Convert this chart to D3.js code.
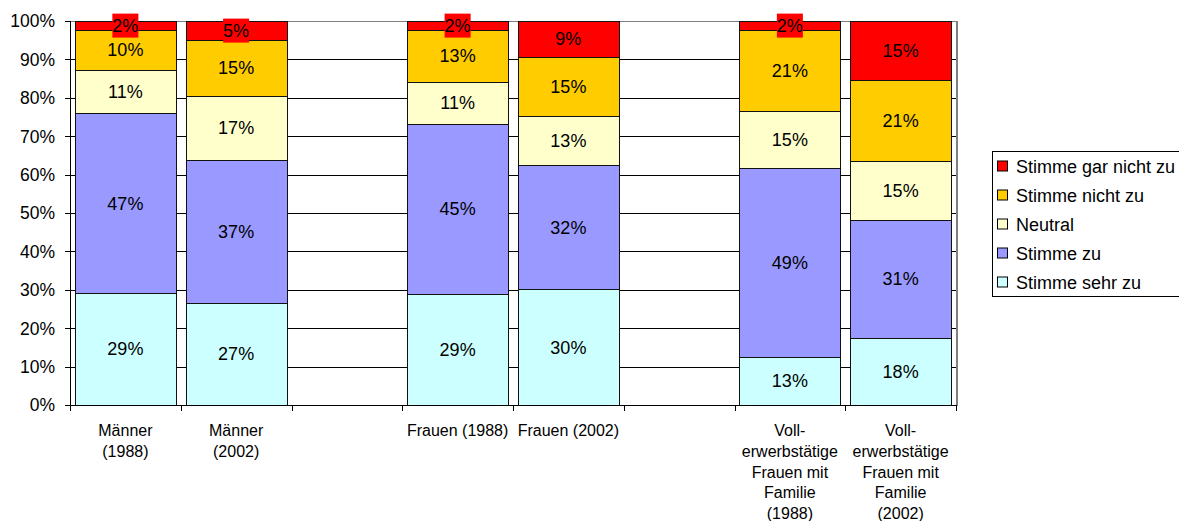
<!DOCTYPE html>
<html>
<head>
<meta charset="utf-8">
<script src="https://cdn.jsdelivr.net/npm/d3@7"></script>
<style>
  body { margin: 0; background: #fff; }
  text { font-family: "Liberation Sans", Arial, sans-serif; fill: #000; }
</style>
</head>
<body>
<div id="viz"></div>
<script>
// categories (empty strings are the spacer slots between the groups)
const categories = [
  'Männer\n(1988)', 'Männer\n(2002)', '',
  'Frauen (1988)', 'Frauen (2002)', '',
  'Voll-\nerwerbstätige\nFrauen mit\nFamilie\n(1988)',
  'Voll-\nerwerbstätige\nFrauen mit\nFamilie\n(2002)'
];

const seriesNames = ['Stimme sehr zu', 'Stimme zu', 'Neutral', 'Stimme nicht zu', 'Stimme gar nicht zu'];
const seriesColors = ['#ccffff', '#9999ff', '#ffffcc', '#ffcc00', '#ff0000'];

// percentages
const sehrZu   = [29.1, 26.5, null, 28.8, 30.1, null, 12.5, 17.5];
const zu       = [46.9, 37.3, null, 44.5, 32.3, null, 49.1, 30.6];
const neutral  = [11.2, 16.7, null, 10.9, 12.9, null, 14.9, 15.4];
const nichtZu  = [10.4, 14.5, null, 13.4, 15.4, null, 21.1, 21.1];
const garNicht = [2.4, 5.0, null, 2.4, 9.3, null, 2.4, 15.4];

const yTicks = [0, 0.1, 0.2, 0.3, 0.4, 0.5, 0.6, 0.7, 0.8, 0.9, 1];

const W = 1179, H = 521;
const plotLeft = 70, plotRight = 956, plotTop = 21, plotBottom = 405;

const rows = categories.map((c, i) => ({
  i: i,
  'Stimme sehr zu': sehrZu[i],
  'Stimme zu': zu[i],
  'Neutral': neutral[i],
  'Stimme nicht zu': nichtZu[i],
  'Stimme gar nicht zu': garNicht[i]
})).filter(d => d['Stimme zu'] != null);

const stacked = d3.stack()
  .keys(seriesNames)
  .offset(d3.stackOffsetExpand)(rows);

const svg = d3.select('#viz')
  .append('svg')
  .attr('width', W)
  .attr('height', H);

const x = d3.scaleBand()
  .domain(d3.range(categories.length))
  .range([plotLeft, plotRight])
  .paddingInner(0.09)
  .paddingOuter(0.045);

const y = d3.scaleLinear().domain([0, 1]).range([plotBottom, plotTop]);

// gridlines
svg.append('g')
  .selectAll('line')
  .data(yTicks.filter(t => t > 0))
  .join('line')
  .attr('x1', plotLeft).attr('x2', plotRight)
  .attr('y1', d => Math.round(y(d)) + 0.5)
  .attr('y2', d => Math.round(y(d)) + 0.5)
  .attr('stroke', d => d === 1 ? '#808080' : '#000')
  .attr('stroke-width', 1);

// plot area right border
svg.append('line')
  .attr('x1', plotRight + 1).attr('x2', plotRight + 1)
  .attr('y1', plotTop).attr('y2', plotBottom + 1)
  .attr('stroke', '#808080')
  .attr('stroke-width', 2);

// bars
const layers = svg.append('g')
  .selectAll('g')
  .data(stacked)
  .join('g')
  .attr('fill', (d, i) => seriesColors[i]);

layers.selectAll('rect')
  .data(d => d)
  .join('rect')
  .attr('x', d => Math.round(x(d.data.i)) + 0.5)
  .attr('width', Math.round(x.bandwidth()))
  .attr('y', d => Math.round(y(d[1])) + 0.5)
  .attr('height', d => Math.round(y(d[0])) - Math.round(y(d[1])))
  .attr('stroke', '#111')
  .attr('stroke-width', 1);

// value labels
stacked.forEach((layer, si) => {
  const key = layer.key;
  const g = svg.append('g');
  layer.forEach(d => {
    const cx = x(d.data.i) + x.bandwidth() / 2;
    const cy = (y(d[0]) + y(d[1])) / 2;
    const t = g.append('text')
      .attr('x', cx)
      .attr('y', cy)
      .attr('dy', '0.35em')
      .attr('text-anchor', 'middle')
      .attr('font-size', 18)
      .text(Math.round(d.data[key]) + '%');
    if (key === 'Stimme gar nicht zu') {
      const bb = t.node().getBBox();
      g.insert('rect', () => t.node())
        .attr('x', bb.x)
        .attr('y', cy - 12)
        .attr('width', bb.width)
        .attr('height', 24)
        .attr('fill', seriesColors[si]);
    }
  });
});

// y axis
svg.append('line')
  .attr('x1', plotLeft + 0.5).attr('x2', plotLeft + 0.5)
  .attr('y1', plotTop).attr('y2', plotBottom + 1)
  .attr('stroke', '#000');

const yAxis = svg.append('g');
yAxis.selectAll('line')
  .data(yTicks)
  .join('line')
  .attr('x1', plotLeft - 5).attr('x2', plotLeft)
  .attr('y1', d => Math.round(y(d)) + 0.5)
  .attr('y2', d => Math.round(y(d)) + 0.5)
  .attr('stroke', '#000');
yAxis.selectAll('text')
  .data(yTicks)
  .join('text')
  .attr('x', plotLeft - 15)
  .attr('y', d => y(d))
  .attr('dy', '0.36em')
  .attr('text-anchor', 'end')
  .attr('font-size', 17.5)
  .text(d3.format('.0%'));

// x axis
svg.append('line')
  .attr('x1', plotLeft).attr('x2', plotRight + 1)
  .attr('y1', plotBottom + 0.5).attr('y2', plotBottom + 0.5)
  .attr('stroke', '#000');

svg.append('g')
  .selectAll('line')
  .data(d3.range(categories.length + 1))
  .join('line')
  .attr('x1', i => Math.round(plotLeft + i * x.step()) + 0.5)
  .attr('x2', i => Math.round(plotLeft + i * x.step()) + 0.5)
  .attr('y1', plotBottom)
  .attr('y2', plotBottom + 6)
  .attr('stroke', '#000');

const xLabels = svg.append('g')
  .selectAll('text')
  .data(categories.map((c, i) => ({ c, i })).filter(d => d.c))
  .join('text')
  .attr('text-anchor', 'middle')
  .attr('font-size', 16)
  .attr('transform', d => `translate(${x(d.i) + x.bandwidth() / 2},436)`);

xLabels.selectAll('tspan')
  .data(d => d.c.split('\n'))
  .join('tspan')
  .attr('x', 0)
  .attr('y', (d, i) => i * 20.8)
  .text(d => d);

// legend
const legend = svg.append('g');
legend.append('rect')
  .attr('x', 992.5).attr('y', 151.5)
  .attr('width', 200).attr('height', 145)
  .attr('fill', '#fff')
  .attr('stroke', '#000');

const legendOrder = d3.range(seriesNames.length).reverse();
const items = legend.selectAll('g')
  .data(legendOrder)
  .join('g')
  .attr('transform', (d, i) => `translate(0,${166.5 + i * 29})`);

items.append('rect')
  .attr('x', 997.5).attr('y', -5.5)
  .attr('width', 10).attr('height', 10)
  .attr('fill', d => seriesColors[d])
  .attr('stroke', '#000');

items.append('text')
  .attr('x', 1016)
  .attr('dy', '0.35em')
  .attr('font-size', 18)
  .text(d => seriesNames[d]);
</script>
</body>
</html>
